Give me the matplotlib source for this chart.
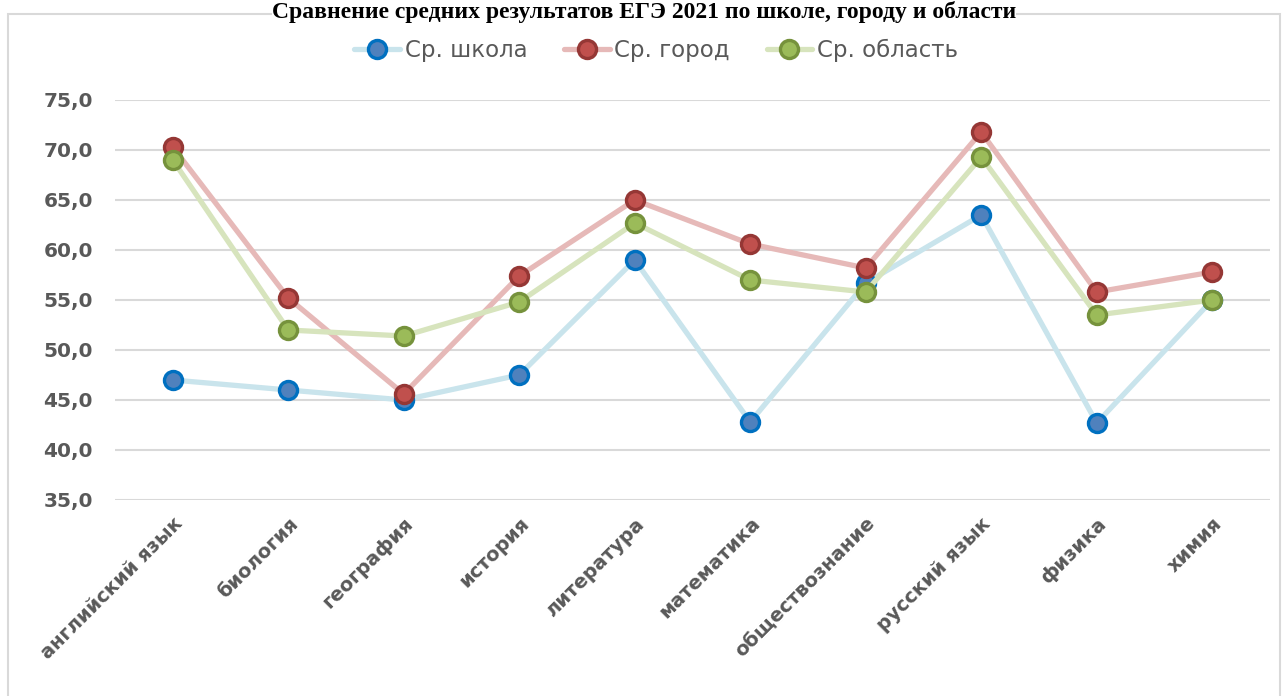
import matplotlib
matplotlib.use("Agg")
import matplotlib.pyplot as plt
from matplotlib.patches import Rectangle
from matplotlib.ticker import FuncFormatter

subjects = ["английский язык", "биология", "география", "история", "литература",
            "математика", "обществознание", "русский язык", "физика", "химия"]
school = [47.0, 46.0, 45.0, 47.5, 59.0, 42.8, 56.7, 63.5, 42.7, 55.0]
city = [70.3, 55.2, 45.6, 57.4, 65.0, 60.6, 58.2, 71.8, 55.8, 57.8]
region = [69.0, 52.0, 51.4, 54.8, 62.7, 57.0, 55.8, 69.3, 53.5, 55.0]
series_names = ["Ср. школа", "Ср. город", "Ср. область"]

styles = [
    dict(color="#c9e4ec", mfc="#4f81bd", mec="#0070c0"),
    dict(color="#e6b9b8", mfc="#c0504d", mec="#953735"),
    dict(color="#d7e4bd", mfc="#9bbb59", mec="#76923c"),
]

W, H = 1288, 696
fig = plt.figure(figsize=(W / 100, H / 100), dpi=100)
ax = fig.add_axes([115 / W, 1 - 500 / H, (1270 - 115) / W, 400 / H])

# chart border
fig.patches.append(Rectangle((8 / W, -0.05), (1280 - 8) / W, 1 - 14 / H + 0.05,
                             transform=fig.transFigure, fill=False,
                             edgecolor="#d9d9d9", linewidth=1.5, zorder=0))

x = list(range(len(subjects)))
for vals, name, st in zip([school, city, region], series_names, styles):
    ax.plot(x, vals, color=st["color"], linewidth=3.8, marker="o", markersize=13,
            markerfacecolor=st["mfc"], markeredgecolor=st["mec"],
            markeredgewidth=2.4, label=name, solid_capstyle="round")

ax.set_xlim(-0.5, len(subjects) - 0.5)
ax.set_ylim(35, 75)
ax.set_yticks(range(35, 76, 5))
ax.yaxis.set_major_formatter(FuncFormatter(lambda v, p: f"{v:.1f}".replace(".", ",")))
ax.grid(axis="y", color="#d9d9d9", linewidth=1.5)
ax.set_axisbelow(True)
for s in ax.spines.values():
    s.set_visible(False)
ax.tick_params(axis="both", length=0, colors="#595959")
ax.tick_params(axis="y", pad=16)
for lbl in ax.get_yticklabels():
    lbl.set_fontsize(14.5)
    lbl.set_fontweight("bold")

ax.set_xticks(x)
ax.set_xticklabels(subjects, rotation=45, ha="right", rotation_mode="anchor",
                   fontsize=14, fontweight="bold", color="#595959")
ax.tick_params(axis="x", pad=10)

ax.legend(loc="center", bbox_to_anchor=(656 / W, 1 - 50 / H), bbox_transform=fig.transFigure,
          ncol=3, frameon=False, fontsize=16.5, labelcolor="#595959",
          handlelength=2.0, columnspacing=1.6, handletextpad=0.2)

fig.text(0.5, 1 - 1 / H, "Сравнение средних результатов ЕГЭ 2021 по школе, городу и области",
         ha="center", va="top", family="Liberation Serif", fontweight="bold",
         fontsize=17, color="black",
         bbox=dict(facecolor="white", edgecolor="none", pad=0))

fig.savefig("out.png", dpi=100)
